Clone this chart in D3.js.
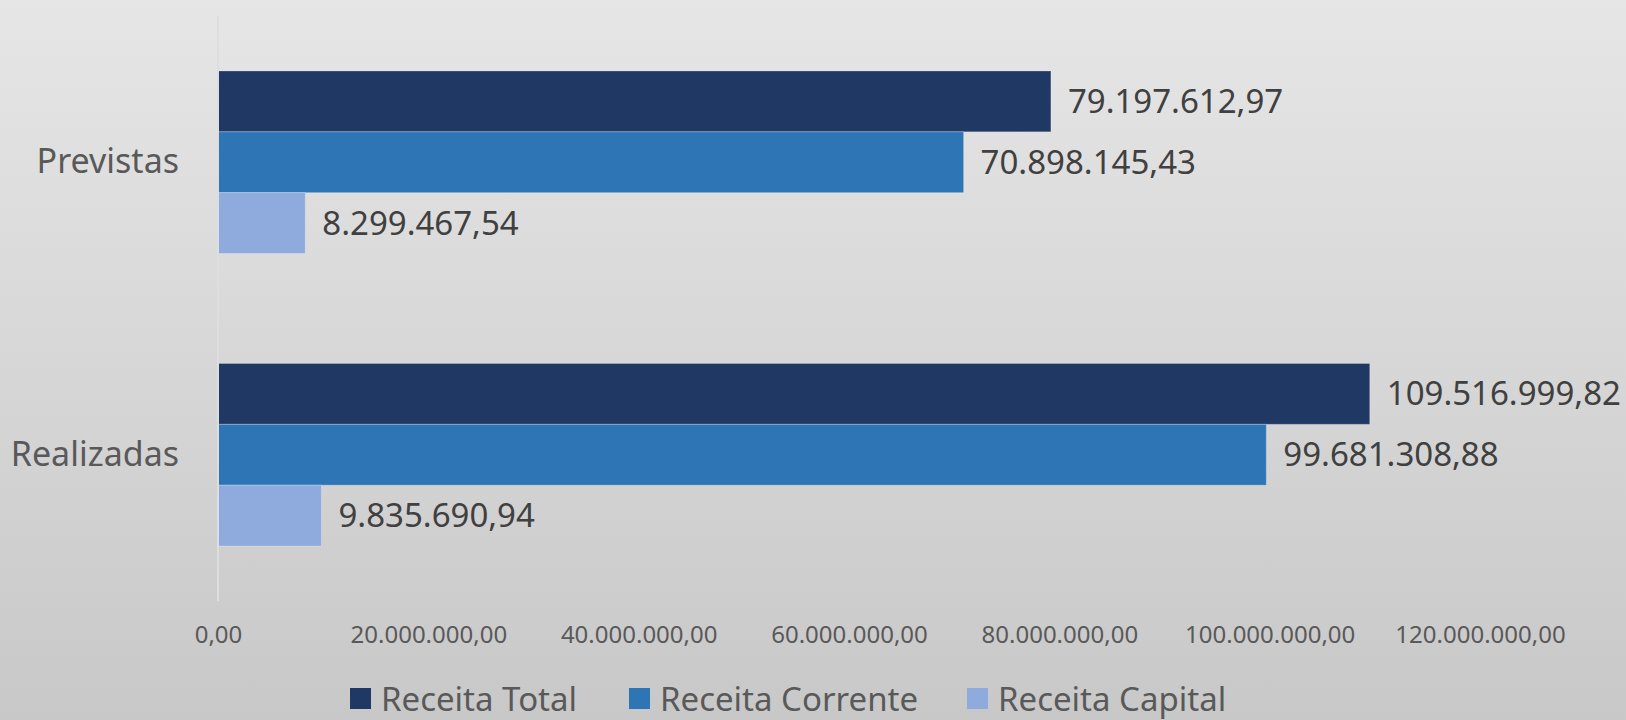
<!DOCTYPE html>
<html>
<head>
<meta charset="utf-8">
<script src="https://cdn.jsdelivr.net/npm/d3@7"></script>
<style>
  html, body { margin: 0; padding: 0; }
  body { width: 1626px; height: 720px; overflow: hidden; }
  svg text { font-family: 'Noto Sans', sans-serif; }
</style>
</head>
<body>
<div id="chart"></div>
<script>
const categories = ['Previstas', 'Realizadas'];
const seriesNames = ['Receita Total', 'Receita Corrente', 'Receita Capital'];
const receitaTotal = [79197612.97, 109516999.82];
const receitaCorrente = [70898145.43, 99681308.88];
const receitaCapital = [8299467.54, 9835690.94];
const xTicks = [0, 20000000, 40000000, 60000000, 80000000, 100000000, 120000000];
const colors = ['#203864', '#2e75b6', '#8faadc'];

const W = 1626;
const H = 720;
const margin = { top: 16, right: 146, bottom: 119, left: 218 };
const width = W - margin.left - margin.right;
const height = H - margin.top - margin.bottom;

// pt-BR number format: 79.197.612,97
const fmt = d3.formatLocale({ decimal: ',', thousands: '.', grouping: [3], currency: ['R$', ''] }).format(',.2f');

const series = [receitaTotal, receitaCorrente, receitaCapital];
const rows = categories.map((c, i) => ({
  cat: c,
  vals: seriesNames.map((s, j) => ({ key: s, value: series[j][i], idx: j }))
}));

const svg = d3.select('#chart')
  .append('svg')
  .attr('width', W)
  .attr('height', H);

// background gradient
const grad = svg.append('defs').append('linearGradient')
  .attr('id', 'bg').attr('x1', 0).attr('y1', 0).attr('x2', 0).attr('y2', 1);
grad.append('stop').attr('offset', '0%').attr('stop-color', '#e6e6e6');
grad.append('stop').attr('offset', '100%').attr('stop-color', '#c8c8c8');
svg.append('rect').attr('width', W).attr('height', H).attr('fill', 'url(#bg)');

const g = svg.append('g')
  .attr('transform', `translate(${margin.left}, ${margin.top})`);

const xScale = d3.scaleLinear().domain([0, 120000000]).range([0, width]);
const yScale = d3.scaleBand().domain(categories).range([0, height])
  .paddingInner(0.376).paddingOuter(0.188);
const ySub = d3.scaleBand().domain(seriesNames).range([0, yScale.bandwidth()]);

// x axis (labels only)
const xAxis = d3.axisBottom(xScale).tickValues(xTicks).tickFormat(fmt).tickSize(0).tickPadding(0);
const xg = g.append('g').attr('class', 'x axis')
  .attr('transform', `translate(0, ${height})`)
  .call(xAxis);
xg.select('.domain').remove();
xg.selectAll('text')
  .attr('y', 34)
  .attr('dy', '0.35em')
  .attr('fill', '#595959')
  .style('font-size', '24px');

// category axis
const yAxis = d3.axisLeft(yScale).tickSize(0).tickPadding(39);
const yg = g.append('g').attr('class', 'y axis').call(yAxis);
yg.select('.domain').remove();
yg.selectAll('text')
  .attr('fill', '#595959')
  .style('font-size', '34px');

// bars
const groups = g.selectAll('.grp')
  .data(rows)
  .join('g')
  .attr('class', 'grp')
  .attr('transform', (d) => `translate(0, ${yScale(d.cat)})`);

groups.selectAll('rect')
  .data((d) => d.vals)
  .join('rect')
  .attr('x', 0)
  .attr('y', (d) => ySub(d.key))
  .attr('width', (d) => xScale(d.value))
  .attr('height', ySub.bandwidth())
  .attr('fill', (d) => colors[d.idx])
  .attr('stroke', 'rgba(255,255,255,0.25)')
  .attr('stroke-width', 1);

groups.selectAll('text.val')
  .data((d) => d.vals)
  .join('text')
  .attr('class', 'val')
  .attr('x', (d) => xScale(d.value) + 17)
  .attr('y', (d) => ySub(d.key) + ySub.bandwidth() / 2)
  .attr('dy', '0.35em')
  .attr('fill', '#404040')
  .style('font-size', '33px')
  .text((d) => fmt(d.value));

// vertical axis line at zero
g.append('line')
  .attr('x1', xScale(0)).attr('x2', xScale(0))
  .attr('y1', 0).attr('y2', height)
  .attr('stroke', '#dedede')
  .attr('stroke-width', 2);

// legend
const legendX = [350, 629, 967];
const legend = svg.append('g').attr('class', 'legend');
const items = legend.selectAll('g')
  .data(seriesNames)
  .join('g')
  .attr('transform', (d, i) => `translate(${legendX[i]}, 698)`);
items.append('rect')
  .attr('x', 0).attr('y', -10)
  .attr('width', 21).attr('height', 21)
  .attr('fill', (d, i) => colors[i]);
items.append('text')
  .attr('x', 31)
  .attr('y', 1)
  .attr('dy', '0.35em')
  .attr('fill', '#595959')
  .style('font-size', '33px')
  .text((d) => d);
</script>
</body>
</html>
